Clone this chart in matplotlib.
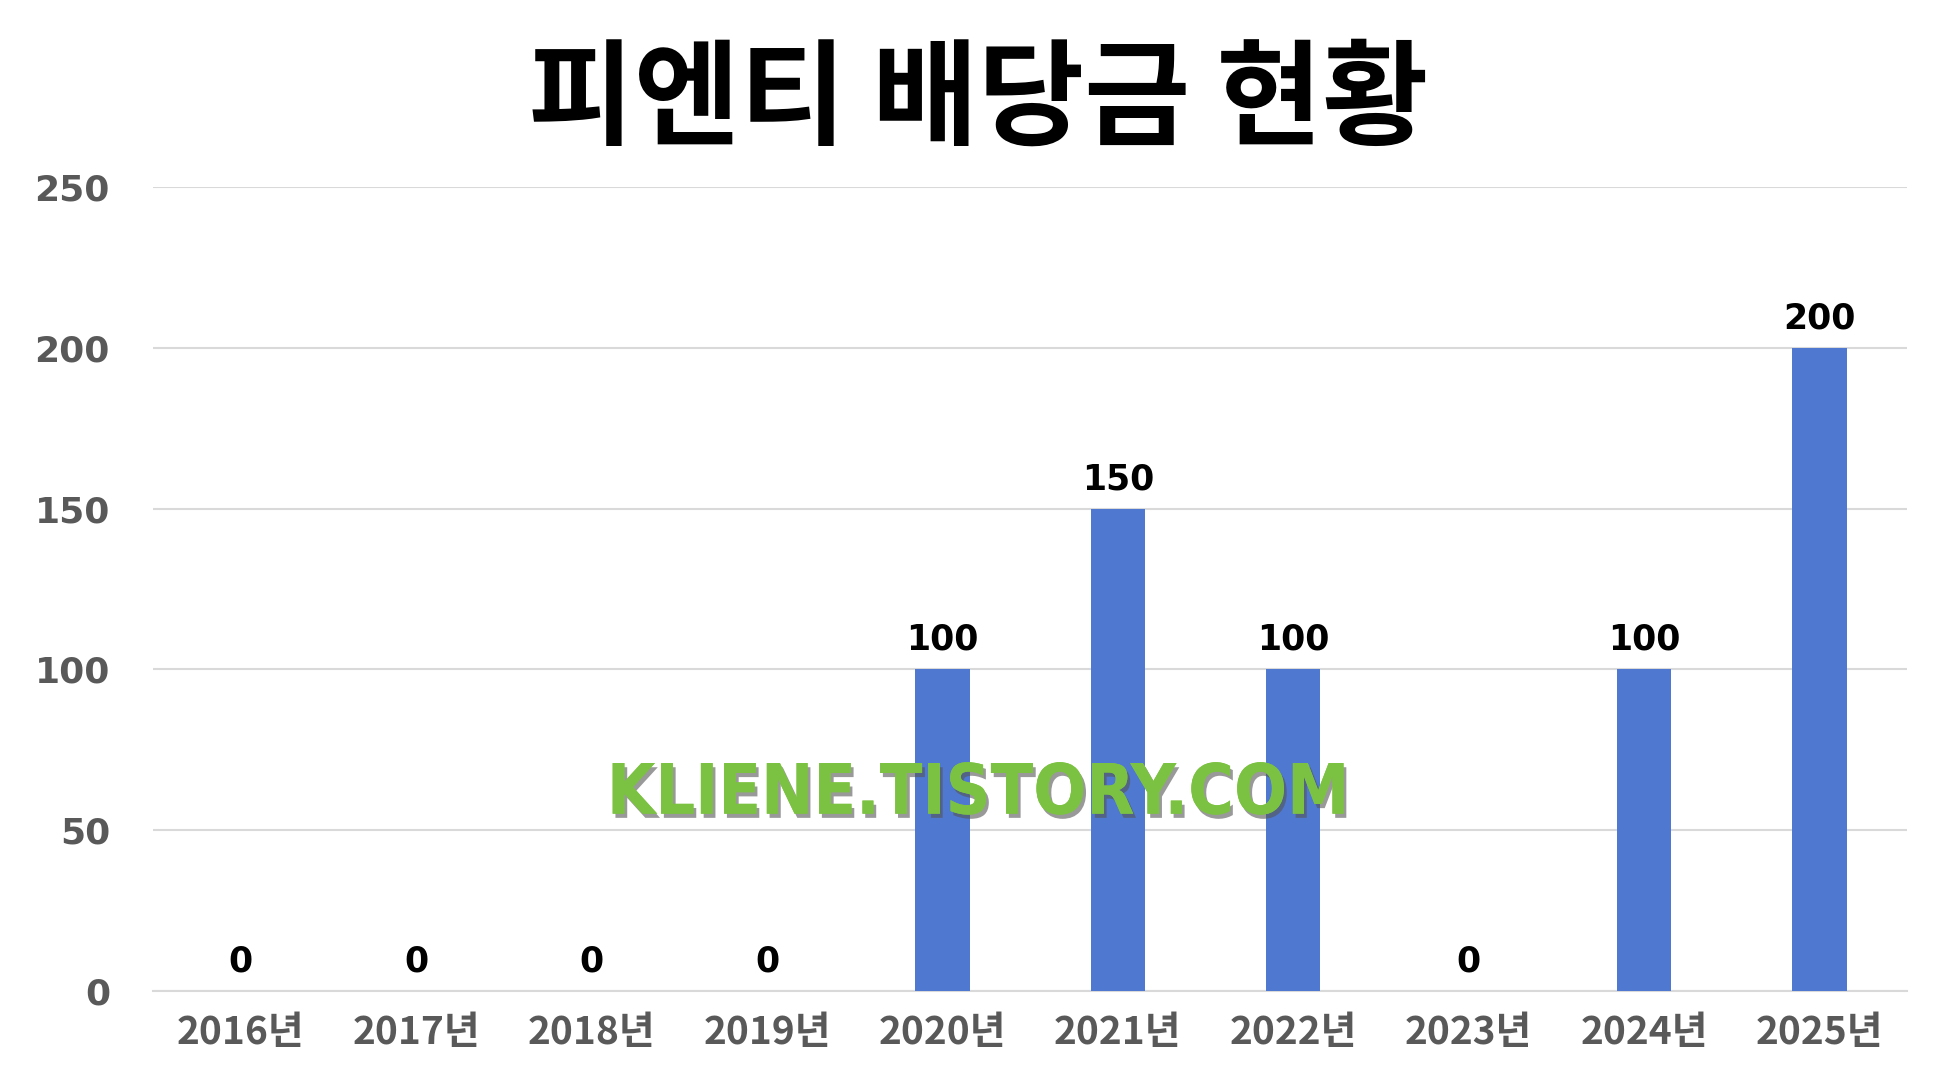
import matplotlib.pyplot as plt
import matplotlib.patheffects as pe

plt.rcParams['font.family'] = ['Noto Sans CJK KR', 'DejaVu Sans']

# data
years = ['2016년', '2017년', '2018년', '2019년', '2020년',
         '2021년', '2022년', '2023년', '2024년', '2025년']
dividends = [0, 0, 0, 0, 100, 150, 100, 0, 100, 200]
y_ticks = [0, 50, 100, 150, 200, 250]

fig = plt.figure(figsize=(19.57, 10.82), dpi=100)
ax = fig.add_axes([0.0782, 0.0841, 0.8963, 0.7431])

x = range(len(years))
bars = ax.bar(x, dividends, width=0.31, color='#4f78d0', zorder=3)

# data labels
for xi, v in zip(x, dividends):
    ax.annotate(str(v), (xi, v), xytext=(0, 9), textcoords='offset points',
                ha='center', va='bottom', fontsize=25, fontweight='bold',
                family='DejaVu Sans', color='black')

ax.set_xlim(-0.5, len(years) - 0.5)
ax.set_ylim(0, 250)
ax.set_yticks(y_ticks)
ax.set_xticks(list(x))
ax.set_xticklabels(years, fontsize=28, fontweight='bold', color='#595959')
ax.set_yticklabels([str(t) for t in y_ticks], fontsize=26, fontweight='bold',
                   color='#595959', family='DejaVu Sans')
ax.tick_params(axis='y', length=0, pad=31)
ax.tick_params(axis='x', length=0, pad=16)

ax.grid(axis='y', color='#d9d9d9', linewidth=1.5, zorder=0)
for s in ['top', 'right', 'left']:
    ax.spines[s].set_visible(False)
ax.spines['bottom'].set_color('#d9d9d9')
ax.spines['bottom'].set_linewidth(1.5)

fig.text(0.5, 0.905, '피엔티 배당금 현황', ha='center', va='center',
         fontsize=83, fontweight='black', color='black')

# watermark
fig.text(0.5, 0.266, 'KLIENE.TISTORY.COM', ha='center', va='center',
         fontsize=50, fontweight='bold', fontstretch='condensed', color='#7cc242',
         family='DejaVu Sans',
         path_effects=[pe.withSimplePatchShadow(offset=(2, -3), shadow_rgbFace='#555555', alpha=0.6),
                       pe.Normal()])

fig.savefig('out.png', dpi=100)
